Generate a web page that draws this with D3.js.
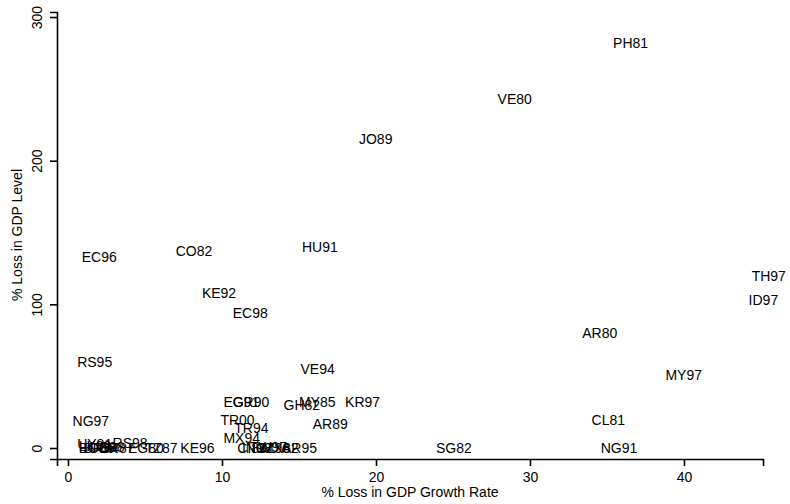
<!DOCTYPE html>
<html>
<head>
<meta charset="utf-8">
<script src="https://cdn.jsdelivr.net/npm/d3@7"></script>
<style>
  body { margin: 0; background: #fff; }
  text { font-family: "Liberation Sans", Arial, Helvetica, sans-serif; }
</style>
</head>
<body>
<div id="container"></div>
<script>
// crisis episodes: country code + year
const labels = [
  "PH81", "VE80", "JO89", "TH97", "ID97", "EC96", "CO82", "HU91", "KE92", "EC98",
  "RS95", "AR80", "VE94", "MY97", "CL81", "NG97", "EG91", "GR90", "MY85", "GH82",
  "KR97", "AR89", "TR00", "TR94", "MX94", "SG82", "NG91", "KE96",
  "UY81", "LK89", "BO86", "BR94", "US88", "CR87", "RS98", "EG80", "TZ87",
  "CI88", "IN93", "TW97", "CZ96", "MX82", "AR95"
];
// % loss in GDP growth rate
const lossGrowth = [
  35.2, 27.7, 18.7, 44.2, 44.0, 0.7, 6.8, 15.0, 8.5, 10.5,
  0.4, 33.2, 14.9, 38.6, 33.8, 0.1, 9.9, 10.5, 14.8, 13.8,
  17.8, 15.7, 9.7, 10.6, 9.9, 23.7, 34.4, 7.1,
  0.4, 0.5, 0.5, 0.8, 1.2, 1.8, 2.7, 3.7, 4.8,
  10.8, 11.1, 11.6, 12.0, 12.4, 13.7
];
// % loss in GDP level
const lossLevel = [
  282, 243, 215, 120, 103, 133, 137, 140, 108, 94,
  60, 80, 55, 51, 19.5, 19, 32, 32, 32, 30,
  32, 17, 19.5, 14, 7, 0, 0, 0,
  3, 1.5, 0, 0, 0.5, 0, 3.5, 0, 0,
  0, 0, 0.5, 0, 0, 0
];

const xTicks = [0, 10, 20, 30, 40];
const yTicks = [0, 100, 200, 300];

const width = 790;
const height = 504;

const svg = d3.select("#container").
append("svg").
attr("width", width).
attr("height", height);

const x = d3.scaleLinear().domain([-0.714, 45.13]).range([57, 763]);
const y = d3.scaleLinear().domain([-7.66, 303.5]).range([459, 12]);

// x axis
const xAxis = svg.append("g").
attr("transform", "translate(0,459)").
call(d3.axisBottom(x).tickValues(xTicks).tickSizeOuter(0).tickSize(7).tickPadding(6));

// y axis
const yAxis = svg.append("g").
attr("transform", "translate(57,0)").
call(d3.axisLeft(y).tickValues(yTicks).tickSizeOuter(0).tickSize(7));

[xAxis, yAxis].forEach(g => {
  g.select(".domain").attr("stroke", "#000").attr("stroke-width", 1.6);
  g.selectAll(".tick line").attr("stroke", "#000").attr("stroke-width", 1.6);
  g.selectAll(".tick text").
  attr("fill", "#000").
  style("font-size", "14px").
  style("font-family", "'Liberation Sans', Arial, sans-serif");
});

// rotated y tick labels
yAxis.selectAll(".tick text").
attr("x", null).
attr("dy", null).
attr("text-anchor", "middle").
attr("transform", "translate(-15,0) rotate(-90)");

// axis titles
svg.append("text").
attr("x", 410).
attr("y", 497).
attr("text-anchor", "middle").
style("font-size", "14px").
text("% Loss in GDP Growth Rate");

svg.append("text").
attr("transform", "translate(22,235) rotate(-90)").
attr("text-anchor", "middle").
style("font-size", "14px").
text("% Loss in GDP Level");

// marker labels only (markers are invisible), placed at 3 o'clock
svg.append("g").
selectAll("text").
data(labels).
enter().
append("text").
attr("x", (d, i) => x(lossGrowth[i]) + 3).
attr("y", (d, i) => y(lossLevel[i])).
attr("dy", "0.36em").
style("font-size", "14px").
attr("fill", "#000").
text(d => d);
</script>
</body>
</html>
